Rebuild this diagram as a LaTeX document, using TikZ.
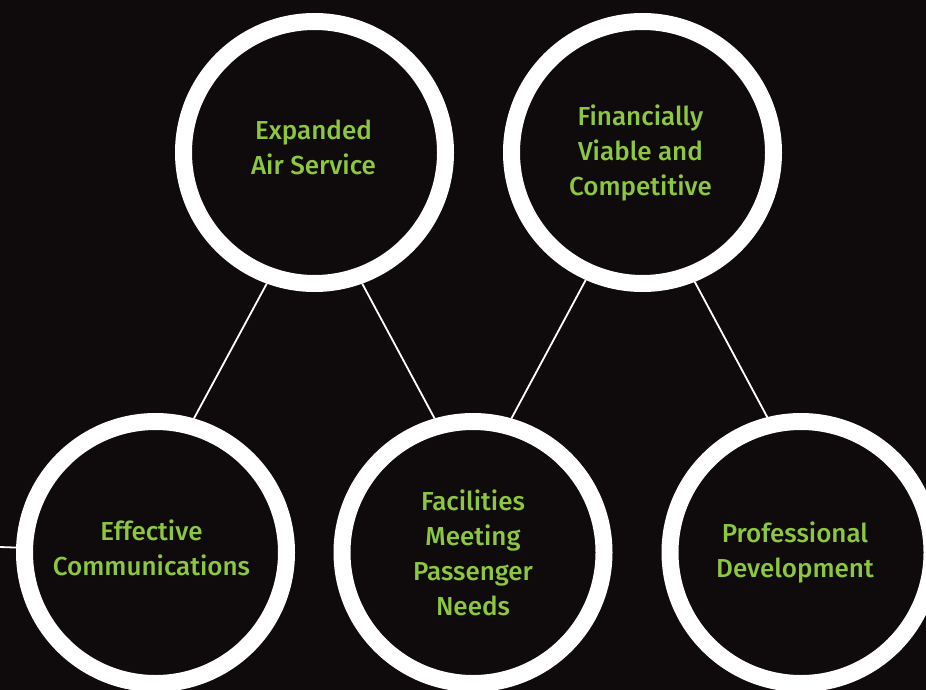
\documentclass[tikz,border=0pt]{standalone}
\usepackage{fontspec}
\newfontfamily\lblfont{Fira Sans}[UprightFont=* Medium]
\definecolor{bgdark}{HTML}{0F0B0C}
\definecolor{lblgreen}{HTML}{8DC63F}
\pgfdeclarelayer{bglayer}
\pgfdeclarelayer{lines}
\pgfsetlayers{bglayer,lines,main}
\tikzset{
  ring/.style={circle, draw=white, line width=17pt, fill=bgdark, minimum size=262pt,
    inner sep=0pt},
  lbl/.style={text=lblgreen, align=center, inner sep=0pt,
    font=\lblfont\fontsize{26pt}{35pt}\selectfont},
  link/.style={draw=white, line width=1.8pt}
}
\begin{document}
\begin{tikzpicture}[x=1pt,y=-1pt]
\useasboundingbox (0,0) rectangle (926,690);
\begin{pgfonlayer}{bglayer}
\fill[bgdark] (0,0) rectangle (926,690);
\end{pgfonlayer}
\node[ring] (c1) at (314.5,152.5) {};
\node[ring] (c2) at (642.5,152.5) {};
\node[ring] (c3) at (155.5,552.5) {};
\node[ring] (c4) at (473,552.5) {};
\node[ring] (c5) at (801,552.5) {};
\node[lbl, xshift=-1pt, yshift=5pt] (t1) at (c1) {Expanded\\Air Service};
\node[lbl, xshift=-2pt] (t2) at (c2) {Financially\\Viable and\\Competitive};
\node[lbl, xshift=-4pt, yshift=5pt] (t3) at (c3) {Effective\\Communications};
\node[lbl] (t4) at (c4) {Facilities\\Meeting\\Passenger\\Needs};
\node[lbl, xshift=-6pt] (t5) at (c5) {Professional\\Development};
\coordinate (L) at (0,547);
\begin{pgfonlayer}{lines}
\draw[link] (c1.250) -- (c3.74);
\draw[link] (c1.290) -- (c4.106);
\draw[link] (c2.246.5) -- (c4.74);
\draw[link] (c2.292) -- (c5.104);
\draw[link] (L) -- (c3.center);
\end{pgfonlayer}
\end{tikzpicture}
\end{document}
